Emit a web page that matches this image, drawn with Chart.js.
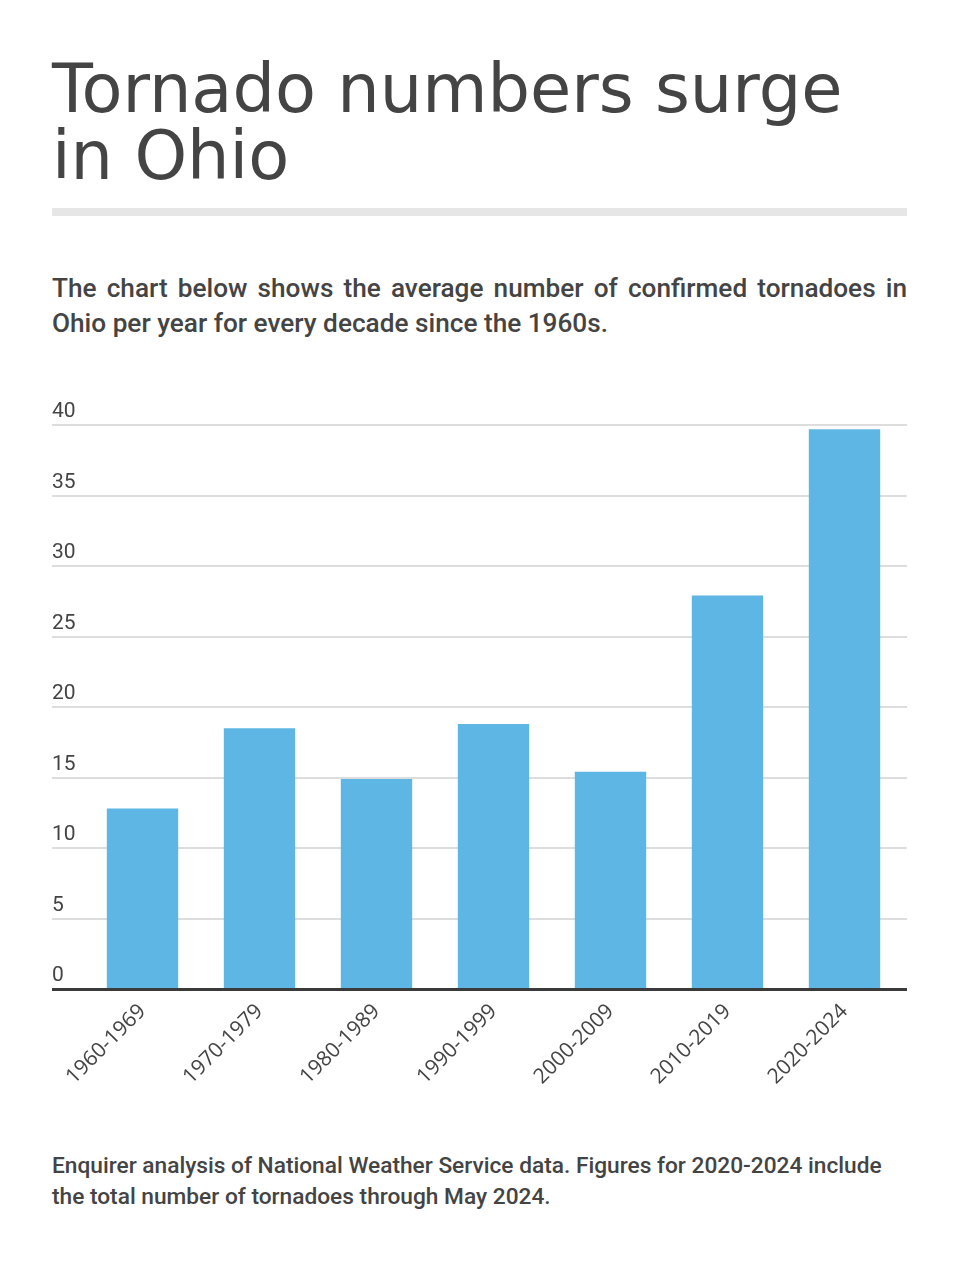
<!DOCTYPE html>
<html lang="en">
<head>
<meta charset="UTF-8">
<script src="https://cdn.jsdelivr.net/npm/chart.js"></script>
<title>Tornado numbers surge in Ohio</title>
<style>
  body { margin: 0; width: 960px; height: 1269px; background: #fff; position: relative; color: #444; }
  h1 { position: absolute; left: 52px; top: 56px; margin: 0; font: 400 67px/67px "DejaVu Sans", sans-serif; color: #444; }
  .rule { position: absolute; left: 52px; top: 208px; width: 855px; height: 8px; background: #e6e6e6; }
  .sub { position: absolute; left: 52px; top: 271px; width: 855px; margin: 0; font: 500 26.2px/35px Roboto, sans-serif; }
  .sub .l1 { display: block; text-align: justify; text-align-last: justify; }
  .note { position: absolute; left: 52px; top: 1150px; width: 890px; margin: 0; font: 500 22.7px/31px Roboto, sans-serif; }
  #chart-wrap { position: absolute; left: 0; top: 380px; width: 960px; height: 730px; }
</style>
</head>
<body>
  <h1>Tornado numbers surge<br>in Ohio</h1>
  <div class="rule"></div>
  <p class="sub"><span class="l1">The chart below shows the average number of confirmed tornadoes in</span>Ohio per year for every decade since the 1960s.</p>
  <div id="chart-wrap"><canvas id="tornado-chart" width="960" height="730"></canvas></div>
  <p class="note">Enquirer analysis of National Weather Service data. Figures for 2020-2024 include<br>the total number of tornadoes through May 2024.</p>
<script>
var decades = ['1960-1969', '1970-1979', '1980-1989', '1990-1999', '2000-2009', '2010-2019', '2020-2024'];
var avgTornadoes = [12.8, 18.5, 14.9, 18.8, 15.4, 27.9, 39.7];
var yTicks = [0, 5, 10, 15, 20, 25, 30, 35, 40];

// gridlines run past the plot area on both sides, so draw them off the y scale
const gridPlugin = {
  id: 'gridLines',
  beforeDatasetsDraw(chart) {
    const ctx = chart.ctx, y = chart.scales.y;
    ctx.save();
    ctx.strokeStyle = '#dddddd';
    ctx.lineWidth = 2;
    yTicks.forEach(v => {
      if (v === 0) return;
      const py = Math.round(y.getPixelForValue(v));
      ctx.beginPath();
      ctx.moveTo(52, py);
      ctx.lineTo(907, py);
      ctx.stroke();
    });
    ctx.restore();
  },
  afterDatasetsDraw(chart) {
    const ctx = chart.ctx, y = chart.scales.y;
    const py = y.getPixelForValue(0) + 0.5;
    ctx.save();
    ctx.strokeStyle = '#3a3a3a';
    ctx.lineWidth = 3;
    ctx.beginPath();
    ctx.moveTo(52, py);
    ctx.lineTo(907, py);
    ctx.stroke();
    ctx.restore();
  }
};

const config = {
  type: 'bar',
  data: {
    labels: decades,
    datasets: [{
      data: avgTornadoes,
      backgroundColor: '#5eb6e4',
      borderWidth: 0,
      categoryPercentage: 1,
      barPercentage: 0.61
    }]
  },
  options: {
    responsive: false,
    animation: false,
    layout: { padding: { left: 52, right: 57, top: 45, bottom: 11 } },
    plugins: { legend: { display: false }, tooltip: { enabled: false } },
    scales: {
      y: {
        min: 0,
        max: 40,
        afterFit: s => { s.width = 32; },
        afterBuildTicks: s => { s.ticks = yTicks.map(v => ({ value: v })); },
        grid: { display: false },
        border: { display: false },
        ticks: {
          crossAlign: 'far',
          padding: 0,
          labelOffset: -13,
          color: '#444',
          font: { family: 'Roboto', size: 21 }
        }
      },
      x: {
        afterFit: s => { s.height = 110; },
        grid: { display: false },
        border: { display: false },
        ticks: {
          minRotation: 45,
          maxRotation: 45,
          padding: 2,
          color: '#444',
          font: { family: 'Open Sans', size: 21 }
        }
      }
    }
  },
  plugins: [gridPlugin]
};

new Chart(document.getElementById('tornado-chart').getContext('2d'), config);
</script>
</body>
</html>
